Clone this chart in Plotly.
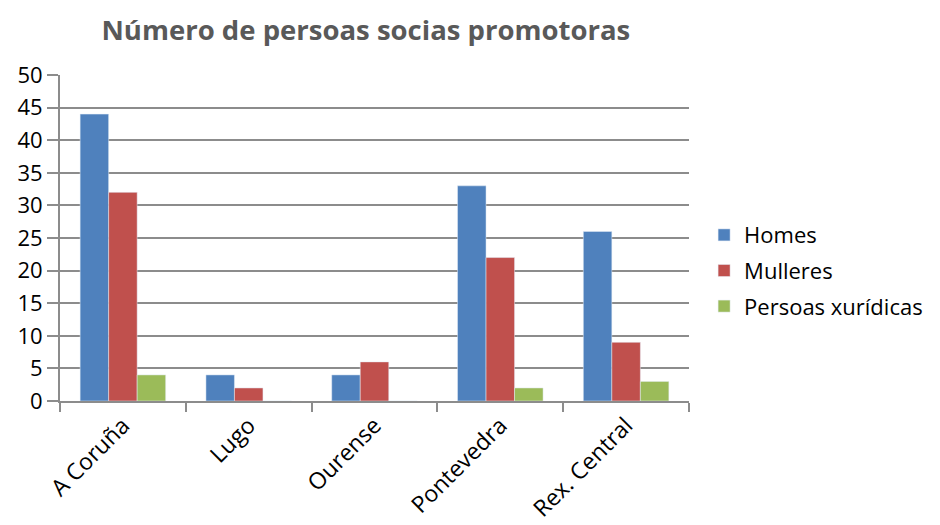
import plotly.graph_objects as go

categories = ["A Coruña", "Lugo", "Ourense", "Pontevedra", "Rex. Central"]
homes = [44, 4, 4, 33, 26]
mulleres = [32, 2, 6, 22, 9]
persoas_xuridicas = [4, 0, 0, 2, 3]
y_ticks = [0, 5, 10, 15, 20, 25, 30, 35, 40, 45, 50]

FONT = "Open Sans"
GRID = "#8c8c8c"

fig = go.Figure()
fig.add_bar(x=categories, y=homes, name="Homes", marker_color="#4f81bd", legendgroup="a")
fig.add_bar(x=categories, y=mulleres, name="Mulleres", marker_color="#c0504d", legendgroup="b")
fig.add_bar(x=categories, y=persoas_xuridicas, name="Persoas xurídicas", marker_color="#9bbb59", legendgroup="c")

# page body has an 8px margin: shrink the figure so the plot lands where the reference has it
fig.update_layout(
    width=932, height=517,
    paper_bgcolor="white", plot_bgcolor="white",
    margin=dict(l=52, r=248, t=67, b=124),
    barmode="group", bargap=0.32, bargroupgap=0,
    title=dict(text="<b>Número de persoas socias promotoras</b>",
               x=0.384, xanchor="center", y=0.957, yanchor="middle",
               font=dict(family=FONT, size=27.5, color="#595959")),
    font=dict(family=FONT, size=22, color="black"),
    legend=dict(x=1.024, y=0.40, xanchor="left", yanchor="middle",
                font=dict(family=FONT, size=22, color="black"),
                tracegroupgap=4, itemwidth=30),
    showlegend=True,
)
fig.update_xaxes(
    type="category", showgrid=False, showline=True, linecolor=GRID, linewidth=2,
    ticks="outside", tickson="boundaries", ticklen=9, tickcolor=GRID, tickwidth=2,
    tickangle=-45, tickfont=dict(family=FONT, size=23, color="black"),
    automargin=False,
)
fig.update_yaxes(
    range=[0, 50], tickvals=y_ticks, showgrid=True, gridcolor=GRID, gridwidth=2,
    showline=True, linecolor=GRID, linewidth=2, zeroline=False,
    ticks="outside", ticklen=11, tickcolor=GRID, tickwidth=2,
    tickfont=dict(family=FONT, size=22, color="black"),
    automargin=False,
)

fig.write_html("out.html")
